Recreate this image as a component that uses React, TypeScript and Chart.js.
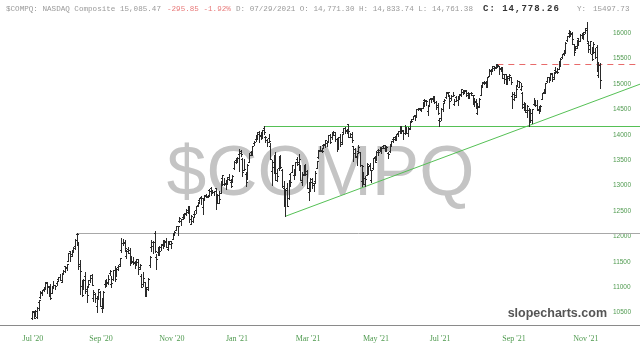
import React, { useEffect, useRef } from "react";
import { Chart, registerables } from "chart.js";

Chart.register(...registerables);

// NASDAQ Composite daily bars, 27 Jul 2020 .. 3 Dec 2021 (344 sessions)
const OPENS = [
  10400,10510,10440,10420,10714,
  10800,10880,10960,10990,11087,11021,10980,10886,11035,11040,11082,11160,11210,11110,11287,11417,11393,11523,11711,11646,11726,
  11810,12046,11861,11420,11018,11013,11230,10970,11012,11144,11246,10783,10868,10622,10835,10915,10590,10656,11058,11111,11097,
  11279,11062,11163,11338,11237,11395,11457,11737,11877,11886,11620,11752,11735,11523,11500,11491,11514,11494,11408,11230,11064,11103,
  10980,11010,11448,11794,11822,12074,11587,11686,11775,11787,11861,11893,11908,11746,11905,11903,11960,12060,12136,12210,
  12298,12310,12385,12388,12448,12491,12604,12250,12305,12438,12514,12617,12715,12780,12573,12761,12790,12793,12914,12958,12907,12877,
  12958,12665,12667,12864,13160,13024,13060,13049,13163,13070,13090,13339,13500,13484,13627,13684,13530,13313,13222,
  13142,13473,13656,13635,13830,13915,13944,14061,14003,13976,14125,13948,13893,13932,13785,13280,13373,13512,13259,
  13339,13572,13318,12952,12814,12948,12760,13233,13277,13201,13313,13516,13418,13371,13070,13230,13382,13291,12870,12979,13072,13018,13084,
  13357,13565,13689,13686,13800,13803,13846,13884,14002,13954,14060,13995,13917,13735,13953,13850,14057,14139,14083,14208,13954,
  14016,13772,13729,13571,13674,13667,13082,13210,13143,13218,13355,13406,13104,13343,13573,13511,13703,13702,13732,13783,
  13792,13744,13645,13675,13814,13914,13955,13935,14039,14077,14169,14091,14039,14088,14046,14120,14274,14318,14387,14384,14518,14501,
  14509,14534,14687,14689,14478,14585,14722,14712,14733,14646,14596,14297,14332,14515,14664,14743,14817,14774,14723,14771,14616,
  14742,14685,14727,14799,14843,14880,14888,14830,14761,14822,14780,14701,14660,14423,14572,14787,14972,15040,15025,14960,15167,15278,
  15290,15358,15315,15385,15360,15306,15332,15203,15191,15066,15120,15138,14758,14800,14784,14970,14947,14902,14824,14611,14563,
  14485,14496,14300,14290,14600,14669,14589,14517,14557,14702,14853,14841,15061,15144,15097,15205,15138,15279,15262,15303,15355,
  15541,15616,15638,15862,16014,16007,15999,15785,15704,15745,15900,15855,15969,15960,16027,16107,15810,15695,15599,15639,15637,
  15735,15187,15372,
];
const HIGHS = [
  10540,10530,10560,10620,10746,
  10924,10946,11002,11109,11100,11025,11057,11025,11114,11052,11130,11211,11262,11279,11337,11418,11467,11666,11717,11709,11800,
  11946,12074,11895,11535,11140,11165,11296,11027,11138,11244,11254,10955,10879,10804,10966,10929,10798,10934,11143,11158,11245,
  11347,11214,11333,11418,11376,11441,11581,11968,11947,11927,11733,11799,11773,11614,11600,11518,11548,11547,11456,11256,11303,11104,
  11014,11182,11620,11921,11910,12108,11647,11795,11816,11848,11928,11940,11972,11910,11920,11913,12063,12112,12211,12216,
  12393,12350,12436,12464,12534,12585,12608,12425,12380,12494,12597,12688,12765,12790,12749,12810,12838,12819,12930,12974,12924,12903,
  12959,12828,12903,13091,13208,13151,13117,13161,13221,13123,13205,13485,13541,13555,13728,13697,13551,13515,13264,
  13429,13638,13688,13778,13879,13988,14050,14074,14048,14095,14175,13975,13922,14008,13830,13499,13603,13664,13332,
  13589,13608,13337,13090,12942,13051,13120,13245,13414,13322,13460,13566,13620,13408,13268,13402,13436,13304,13063,13145,13145,13062,13294,
  13480,13710,13776,13743,13829,13901,13876,14004,14020,14042,14080,14047,13943,13955,14018,14021,14139,14148,14110,14212,14043,
  14048,13781,13743,13640,13803,13670,13407,13262,13192,13438,13386,13447,13318,13552,13585,13673,13727,13754,13768,13791,
  13809,13782,13662,13828,13883,13962,13987,14025,14070,14175,14175,14100,14193,14133,14145,14270,14307,14377,14388,14506,14535,14537,
  14525,14640,14707,14689,14581,14702,14734,14755,14755,14674,14631,14322,14532,14634,14703,14838,14850,14780,14787,14834,14702,
  14763,14765,14805,14896,14859,14890,14891,14835,14818,14835,14793,14717,14704,14621,14724,14964,15036,15055,15050,15133,15288,15278,
  15346,15359,15381,15403,15361,15341,15333,15204,15195,15166,15196,15145,14848,14850,14984,15073,15055,15030,14841,14647,14620,
  14582,14525,14506,14509,14718,14681,14684,14573,14587,14832,14900,15029,15139,15148,15216,15219,15229,15345,15309,15449,15504,
  15596,15665,15823,15946,16054,16038,16017,15797,15755,15865,15907,15983,15996,16015,16094,16212,15830,15854,15722,15821,15716,
  15760,15429,15414,
];
const LOWS = [
  10384,10400,10430,10390,10550,
  10793,10853,10930,10960,10880,10827,10775,10885,10988,10969,11050,11125,11137,11110,11262,11310,11344,11508,11517,11623,11700,
  11754,11838,11361,10875,10831,10970,10880,10701,11000,11109,11050,10725,10713,10520,10780,10632,10520,10599,10996,11032,11066,
  11237,10997,11153,11129,11220,11347,11428,11700,11829,11723,11581,11670,11439,11491,11460,11370,11431,11259,11368,11000,11018,10822,
  10832,10953,11394,11718,11684,11700,11367,11645,11631,11736,11767,11821,11801,11741,11852,11778,11941,12038,12131,12030,
  12287,12233,12346,12373,12420,12463,12283,12240,12284,12402,12460,12594,12688,12643,12433,12721,12770,12775,12812,12821,12857,12822,
  12543,12665,12666,12856,13004,13017,12929,13027,13104,12964,13072,13332,13451,13470,13284,13584,13196,13306,13003,
  13126,13458,13601,13607,13796,13877,13925,13864,13917,13935,14022,13862,13780,13865,13529,13004,13256,13113,13084,
  13304,13347,12980,12605,12397,12600,12743,12984,13268,13130,13203,13409,13304,13114,13020,13217,13214,12953,12716,12892,12951,12895,13074,
  13338,13548,13684,13666,13740,13761,13787,13874,13840,13926,13998,13882,13684,13720,13783,13823,14021,14040,14027,13951,13948,
  13853,13486,13573,13414,13657,13389,13002,13031,12985,13215,13232,13301,13063,13333,13465,13503,13599,13680,13652,13743,
  13683,13688,13542,13663,13777,13854,13899,13890,13980,14027,14045,13918,14023,14029,13972,14108,14249,14315,14302,14371,14483,14480,
  14461,14521,14560,14584,14394,14571,14655,14662,14631,14508,14416,14181,14293,14478,14621,14726,14765,14519,14685,14761,14594,
  14670,14579,14714,14769,14801,14828,14756,14722,14720,14792,14609,14563,14520,14410,14554,14777,14960,15000,14945,14940,15162,15198,
  15278,15283,15307,15336,15206,15247,15110,15021,15006,14999,15077,14997,14530,14693,14752,14952,14946,14876,14523,14492,14445,
  14347,14182,14275,14224,14593,14562,14485,14430,14478,14697,14830,14830,15044,15046,15083,15051,15108,15208,15221,15303,15350,
  15505,15573,15606,15847,15918,15947,15786,15578,15672,15716,15778,15846,15914,15894,15996,15852,15632,15607,15469,15609,15517,
  15250,15130,14931,
];
const CLOSES = [
  10536,10402,10543,10588,10745,
  10903,10941,10998,11108,11011,10968,10783,11012,11043,11019,11130,11211,11146,11265,11312,11380,11466,11665,11625,11696,11775,
  11940,12056,11458,11313,10848,11142,10920,10854,11057,11190,11050,10910,10793,10779,10964,10633,10672,10914,11118,11085,11168,
  11327,11075,11332,11155,11365,11421,11580,11876,11864,11769,11714,11672,11479,11516,11485,11506,11548,11359,11431,11005,11186,10912,
  10958,11161,11591,11891,11895,11714,11554,11786,11710,11829,11924,11899,11802,11905,11855,11881,12037,12094,12206,12199,
  12355,12349,12377,12464,12520,12583,12339,12406,12378,12440,12595,12658,12765,12756,12743,12808,12771,12805,12899,12850,12870,12888,
  12698,12819,12741,13067,13202,13036,13072,13129,13113,12999,13197,13457,13531,13543,13636,13626,13271,13337,13071,
  13403,13613,13611,13778,13856,13988,14008,13973,14026,14095,14048,13965,13865,13874,13533,13465,13598,13119,13192,
  13589,13359,12998,12723,12920,12609,13074,13069,13399,13320,13460,13472,13525,13116,13215,13378,13228,12962,12978,13139,13060,13045,13247,
  13480,13706,13698,13689,13829,13900,13850,13996,13858,14039,14052,13915,13786,13950,13818,14017,14139,14090,14051,14083,13963,
  13895,13634,13582,13633,13752,13402,13389,13032,13125,13430,13379,13304,13300,13536,13471,13661,13657,13738,13736,13749,
  13736,13756,13615,13814,13882,13925,13912,14020,14069,14174,14073,14040,14161,14030,14141,14253,14272,14370,14360,14501,14528,14504,
  14522,14639,14664,14665,14560,14702,14733,14678,14645,14543,14427,14275,14499,14632,14685,14837,14841,14661,14763,14778,14673,
  14681,14761,14781,14895,14836,14860,14788,14765,14816,14823,14794,14656,14526,14542,14715,14943,15020,15042,14946,15130,15266,15259,
  15309,15331,15364,15374,15287,15248,15115,15106,15038,15162,15182,15044,14714,14746,14897,15052,15048,14970,14547,14512,14449,
  14567,14255,14434,14502,14654,14580,14486,14466,14572,14823,14897,15022,15129,15122,15216,15090,15227,15236,15236,15448,15498,
  15596,15650,15812,15940,15972,15982,15887,15623,15704,15861,15854,15974,15922,15994,16057,15855,15775,15845,15492,15783,15538,
  15254,15381,15085,
];

// x-axis labels and the bar positions they sit at
const X_TICK_LABELS = ["Jul '20", "Sep '20", "Nov '20", "Jan '21", "Mar '21", "May '21", "Jul '21", "Sep '21", "Nov '21"];
const X_TICK_AT = [0.6, 41.7, 84.5, 123.8, 166.7, 207.7, 246.4, 291.1, 334.5];
const Y_TICKS = [10500, 11000, 11500, 12000, 12500, 13000, 13500, 14000, 14500, 15000, 15500, 16000];

// drawn levels: bar index of the high they start from
const GREY_LEVEL_BAR = 27;   // 2 Sep 2020 high
const GREEN_LEVEL_BAR = 140; // 16 Feb 2021 high
const RED_LEVEL_BAR = 281;   // 7 Sep 2021 high
// rising support: bar indices of the two lows it joins
const SUPPORT_BARS = [153, 300]; // 5 Mar 2021 low, 4 Oct 2021 low

const HEADER_NAME = "$COMPQ: NASDAQ Composite 15,085.47";
const HEADER_CHANGE = "-295.85 -1.92%";
const HEADER_OHL = "D: 07/29/2021 O: 14,771.30 H: 14,833.74 L: 14,761.38";
const HEADER_CLOSE = "C: 14,778.26";
const HEADER_Y_LABEL = "Y:";
const HEADER_Y_VALUE = "15497.73";
const WATERMARK = "$COMPQ";
const SITE = "slopecharts.com";

// draws each bar element (placed by the bar controller) as a crisp OHLC bar
const ohlcDraw = {
  id: "ohlcDraw",
  beforeDatasetDraw(chart: any, args: any) {
    if (args.index !== 0) return;
    const { ctx, scales } = chart;
    const ys = scales.y;
    const els = args.meta.data;
    ctx.save();
    ctx.strokeStyle = "#2a2a2a";
    ctx.lineWidth = 1;
    ctx.beginPath();
    for (let i = 0; i < els.length; i++) {
      const el = els[i];
      const X = Math.round(el.x);
      const top = Math.round(Math.min(el.y, el.base));
      const bot = Math.round(Math.max(el.y, el.base));
      ctx.moveTo(X + 0.5, top);
      ctx.lineTo(X + 0.5, bot + 1);
      const yo = Math.round(ys.getPixelForValue(OPENS[i])) + 0.5;
      const yc = Math.round(ys.getPixelForValue(CLOSES[i])) + 0.5;
      ctx.moveTo(X - 1, yo);
      ctx.lineTo(X, yo);
      ctx.moveTo(X + 1, yc);
      ctx.lineTo(X + 2, yc);
    }
    ctx.stroke();
    ctx.restore();
    return false;
  },
};

const levels = {
  id: "levels",
  beforeDatasetsDraw(chart: any) {
    const { ctx, scales, width } = chart;
    const xs = scales.x, ys = scales.y;
    ctx.save();
    ctx.lineWidth = 1;
    const hline = (bar: number, value: number, color: string, dash: number[]) => {
      const y = Math.round(ys.getPixelForValue(value)) + 0.5;
      ctx.strokeStyle = color;
      ctx.setLineDash(dash);
      ctx.beginPath();
      ctx.moveTo(xs.getPixelForValue(bar), y);
      ctx.lineTo(width, y);
      ctx.stroke();
    };
    hline(GREY_LEVEL_BAR, HIGHS[GREY_LEVEL_BAR], "#a8a8a8", []);
    hline(GREEN_LEVEL_BAR, HIGHS[GREEN_LEVEL_BAR], "#55c055", []);
    hline(RED_LEVEL_BAR, HIGHS[RED_LEVEL_BAR], "#e86a6a", [6, 5]);
    // rising support
    const [a, b] = SUPPORT_BARS;
    const va = LOWS[a], vb = LOWS[b];
    const xEnd = xs.getValueForPixel(width);
    const vEnd = va + ((vb - va) * (xEnd - a)) / (b - a);
    ctx.setLineDash([]);
    ctx.strokeStyle = "#55c055";
    ctx.beginPath();
    ctx.moveTo(xs.getPixelForValue(a), ys.getPixelForValue(va));
    ctx.lineTo(xs.getPixelForValue(xEnd), ys.getPixelForValue(vEnd));
    ctx.stroke();
    ctx.restore();
  },
};

export default function App() {
  const ref = useRef<HTMLCanvasElement>(null);
  useEffect(() => {
    if (!ref.current) return;
    const data = CLOSES.map((_, i) => ({ x: i, y: [LOWS[i], HIGHS[i]] }));
    const chart = new Chart(ref.current, {
      type: "bar",
      data: {
        datasets: [
          {
            data: data as any,
            backgroundColor: "#2a2a2a",
            borderWidth: 0,
            barThickness: 1,
            grouped: false,
          } as any,
        ],
      },
      options: {
        animation: false,
        responsive: false,
        devicePixelRatio: 1,
        layout: { padding: { top: 10.5, left: 0, right: 0, bottom: 0 } },
        plugins: { legend: { display: false }, tooltip: { enabled: false }, title: { display: false } },
        scales: {
          x: {
            type: "linear",
            min: -19.3,
            max: 345.4,
            offset: false,
            grid: { display: false, drawTicks: false },
            border: { display: false },
            afterBuildTicks: (s: any) => {
              s.ticks = X_TICK_AT.map((v) => ({ value: v }));
            },
            afterFit: (s: any) => {
              s.height = 25.6;
            },
            ticks: {
              autoSkip: false,
              maxRotation: 0,
              minRotation: 0,
              padding: 9,
              color: "#4f9a4f",
              font: { family: "'Liberation Serif', serif", size: 8 },
              callback: (_v: any, i: number) => X_TICK_LABELS[i],
            },
          },
          y: {
            position: "right",
            min: 10250,
            max: 16400,
            grid: { display: false, drawTicks: false },
            border: { display: false },
            afterBuildTicks: (s: any) => {
              s.ticks = Y_TICKS.map((v) => ({ value: v }));
            },
            afterFit: (s: any) => {
              s.width = 36;
            },
            ticks: {
              padding: 9,
              color: "#4f9a4f",
              font: { family: "'Liberation Sans', sans-serif", size: 6.5 },
              callback: (v: any) => String(v),
            },
          },
        } as any,
      },
      plugins: [levels, ohlcDraw],
    });
    return () => chart.destroy();
  }, []);

  const mono: React.CSSProperties = {
    position: "absolute",
    top: 4,
    fontFamily: "'Liberation Mono', monospace",
    fontSize: 7.6,
    lineHeight: "10px",
    whiteSpace: "pre",
    color: "#9a9a9a",
  };

  return (
    <div style={{ position: "absolute", left: 0, top: 0, width: 640, height: 351, background: "#fff", overflow: "hidden" }}>
      <div
        style={{
          position: "absolute",
          left: 0,
          top: 135,
          width: 641,
          textAlign: "center",
          fontFamily: "'Liberation Sans', Arial, sans-serif",
          fontSize: 71,
          lineHeight: "71px",
          color: "#c4c4c4",
          whiteSpace: "pre",
        }}
      >
        {WATERMARK}
      </div>
      <canvas ref={ref} width={640} height={351} style={{ position: "absolute", left: 0, top: 0, width: 640, height: 351 }} />
      <div style={{ position: "absolute", left: 0, top: 325, width: 640, height: 1, background: "#8a8a8a" }} />
      <span style={{ ...mono, left: 6 }}>{HEADER_NAME}</span>
      <span style={{ ...mono, left: 167, color: "#e87a7a" }}>{HEADER_CHANGE}</span>
      <span style={{ ...mono, left: 236 }}>{HEADER_OHL}</span>
      <span style={{ ...mono, left: 483, top: 3.5, color: "#333", fontWeight: "bold", fontSize: 9, letterSpacing: 1 }}>{HEADER_CLOSE}</span>
      <span style={{ ...mono, left: 577 }}>{HEADER_Y_LABEL}</span>
      <span style={{ ...mono, left: 593 }}>{HEADER_Y_VALUE}</span>
      <div
        style={{
          position: "absolute",
          right: 33,
          top: 306.5,
          fontFamily: "'Liberation Sans', Arial, sans-serif",
          fontWeight: "bold",
          fontSize: 12.5,
          lineHeight: "12.5px",
          color: "#555",
          whiteSpace: "pre",
        }}
      >
        {SITE}
      </div>
    </div>
  );
}
